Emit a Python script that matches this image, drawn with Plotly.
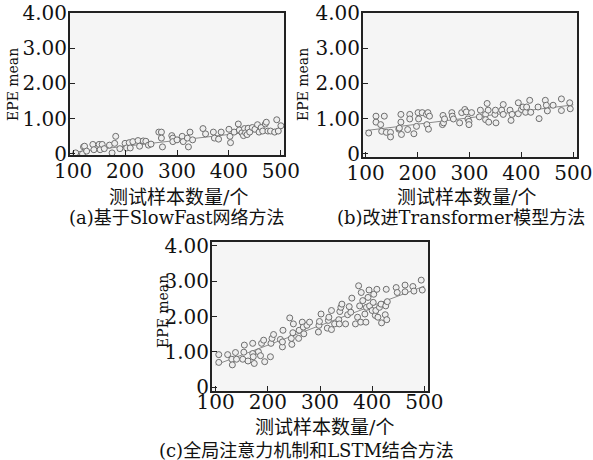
import plotly.graph_objects as go

# ---------------- data ----------------
a_x = [105, 118, 120, 122, 126, 138, 140, 150, 152, 156, 160, 170, 175, 182, 180, 190, 200, 203, 208, 210,
       215, 225, 228, 235, 240, 245, 250, 265, 270, 270, 272, 290, 292, 292, 300, 310, 312, 320, 322, 325,
       330, 350, 355, 370, 372, 380, 385, 400, 402, 403, 410, 418, 420, 425, 428, 430, 432, 435, 437, 440,
       445, 450, 455, 458, 462, 465, 470, 472, 475, 480, 488, 492, 495, 500]
a_y = [0.03, 0.0, 0.2, 0.22, 0.08, 0.27, 0.12, 0.27, 0.12, 0.27, 0.15, 0.25, 0.03, 0.5, 0.3, 0.15, 0.3, 0.17, 0.32, 0.17,
       0.35, 0.38, 0.22, 0.37, 0.36, 0.25, 0.28, 0.62, 0.62, 0.45, 0.2, 0.52, 0.45, 0.35, 0.4, 0.5, 0.35, 0.45, 0.2, 0.62,
       0.4, 0.72, 0.57, 0.62, 0.45, 0.42, 0.62, 0.7, 0.5, 0.32, 0.62, 0.85, 0.68, 0.6, 0.52, 0.72, 0.6, 0.55, 0.73, 0.62,
       0.75, 0.7, 0.83, 0.62, 0.75, 0.65, 0.85, 0.9, 0.65, 0.65, 0.62, 0.97, 0.65, 0.8]
a_fit_x = [100, 500]
a_fit_y = [0.05, 0.72]

b_x = [106, 120, 120, 129, 131, 136, 140, 148, 148, 164, 165, 168, 168, 169, 181, 185, 185, 193, 198, 201,
       202, 209, 217, 218, 220, 223, 221, 248, 249, 250, 252, 266, 267, 269, 281, 285, 291, 294, 297, 299,
       299, 304, 319, 321, 331, 331, 334, 336, 337, 349, 350, 351, 362, 365, 365, 378, 380, 382, 394, 394,
       400, 403, 408, 410, 416, 418, 432, 434, 446, 448, 450, 461, 477, 477, 493, 494]
b_y = [0.59, 1.07, 0.9, 0.83, 0.64, 1.07, 0.61, 0.61, 0.48, 0.70, 0.73, 1.12, 0.9, 0.55, 0.69, 1.12, 0.99, 0.57, 0.78, 1.17,
       0.99, 1.17, 1.12, 0.83, 1.17, 1.07, 0.70, 0.83, 1.09, 0.88, 0.99, 1.17, 1.07, 0.99, 0.88, 1.17, 1.26, 1.19, 0.99, 0.92,
       0.83, 1.17, 1.05, 1.24, 1.12, 0.97, 1.43, 1.24, 0.9, 1.12, 1.24, 0.88, 1.24, 1.40, 1.12, 1.24, 0.95, 1.12, 1.45, 1.14,
       1.26, 1.33, 1.18, 1.33, 1.52, 1.18, 1.33, 1.0, 1.52, 1.38, 1.22, 1.38, 1.56, 1.23, 1.45, 1.28]
b_fit_x = [100, 500]
b_fit_y = [0.66, 1.39]

c_x = [106, 106, 123, 131, 132, 138, 140, 152, 154, 155, 162, 171, 171, 172, 174, 182, 186, 188, 192, 194,
       205, 206, 208, 211, 224, 228, 228, 229, 242, 245, 246, 248, 249, 259, 260, 266, 268, 269, 275, 280,
       297, 298, 299, 302, 314, 316, 317, 322, 322, 328, 336, 337, 338, 340, 342, 349, 353, 356, 359, 361,
       368, 372, 374, 376, 378, 379, 382, 386, 388, 389, 392, 394, 395, 400, 402, 403, 406, 407, 409, 411,
       414, 417, 418, 425, 426, 427, 428, 429, 446, 448, 463, 463, 478, 480, 494, 496]
c_y = [0.92, 0.7, 0.92, 0.79, 0.63, 0.98, 0.79, 0.79, 0.99, 1.19, 0.74, 0.95, 1.24, 0.86, 0.67, 1.0, 0.89, 1.24, 1.33, 0.72,
       0.86, 1.24, 1.38, 1.49, 1.35, 1.14, 1.28, 1.61, 1.96, 1.38, 1.21, 1.54, 1.79, 1.38, 1.61, 1.84, 1.70, 1.51, 1.75, 1.84,
       1.56, 1.75, 1.86, 2.07, 1.67, 1.89, 1.98, 2.17, 1.63, 1.79, 1.91, 1.79, 2.14, 2.26, 2.35, 1.79, 2.05, 2.28, 2.12, 2.52,
       1.79, 1.98, 2.87, 2.30, 1.84, 2.68, 2.45, 2.07, 1.84, 2.26, 2.54, 2.75, 2.30, 2.17, 2.40, 2.63, 2.03, 2.17, 2.77, 1.98,
       2.26, 2.35, 1.82, 2.05, 2.30, 2.77, 1.91, 2.42, 2.82, 2.68, 2.89, 2.70, 2.85, 2.72, 3.03, 2.75]
c_fit_x = [100, 500]
c_fit_y = [0.63, 2.86]

x_ticks = [100, 200, 300, 400, 500]
y_ticks = [0, 1, 2, 3, 4]
y_tick_labels = ["0", "1.00", "2.00", "3.00", "4.00"]
x_title = "测试样本数量/个"
y_title = "EPE mean"
captions = ["(a)基于SlowFast网络方法", "(b)改进Transformer模型方法", "(c)全局注意力机制和LSTM结合方法"]

# ---------------- layout helpers ----------------
W, H = 593, 460
SERIF = "DejaVu Serif, Noto Sans CJK SC, serif"
CJK = "DejaVu Serif, Noto Sans CJK SC, sans-serif"

def dom_x(p0, p1):
    return [p0 / W, p1 / W]

def dom_y(top, bottom):
    return [1 - bottom / H, 1 - top / H]

panels = [
    dict(x=a_x, y=a_y, fx=a_fit_x, fy=a_fit_y, xd=dom_x(70, 284), yd=dom_y(13, 155),
         xr=[94, 506], yr=[-0.03, 4.0], xso=-3),
    dict(x=b_x, y=b_y, fx=b_fit_x, fy=b_fit_y, xd=dom_x(363, 577), yd=dom_y(13, 157),
         xr=[95, 507], yr=[-0.09, 4.0], xso=-3),
    dict(x=c_x, y=c_y, fx=c_fit_x, fy=c_fit_y, xd=dom_x(212, 428), yd=dom_y(242, 391),
         xr=[93, 507], yr=[-0.11, 4.11], xso=-8),
]

fig = go.Figure()
layout = {}
for i, p in enumerate(panels):
    sfx = "" if i == 0 else str(i + 1)
    xref = "x" + sfx
    yref = "y" + sfx
    fig.add_trace(go.Scatter(
        x=p["fx"], y=p["fy"], mode="lines", xaxis=xref, yaxis=yref,
        line=dict(color="#8a8a8a", width=1), showlegend=False, hoverinfo="skip"))
    fig.add_trace(go.Scatter(
        x=p["x"], y=p["y"], mode="markers", xaxis=xref, yaxis=yref,
        marker=dict(symbol="circle", size=6, color="#eeeeee",
                    line=dict(color="#6e6e6e", width=1)),
        showlegend=False))
    layout["xaxis" + sfx] = dict(
        domain=p["xd"], range=p["xr"], anchor=yref, automargin=False,
        tickvals=x_ticks, ticktext=[str(v) for v in x_ticks],
        ticks="inside", ticklen=5, tickwidth=1, tickcolor="#222",
        showline=True, linecolor="#222", linewidth=2, mirror=True,
        showgrid=False, zeroline=False, ticklabelstandoff=p["xso"],
        tickfont=dict(family=SERIF, size=20, color="#111"))
    layout["yaxis" + sfx] = dict(
        domain=p["yd"], range=p["yr"], anchor=xref, automargin=False,
        tickvals=y_ticks, ticktext=y_tick_labels,
        ticks="inside", ticklen=5, tickwidth=1, tickcolor="#222",
        showline=True, linecolor="#222", linewidth=2, mirror=True,
        showgrid=False, zeroline=False, ticklabelstandoff=-3,
        tickfont=dict(family=SERIF, size=20, color="#111"))

fig.update_layout(**layout)

annos = []
# y titles
for (cx, cy) in [(13, 85), (303, 85), (163, 312)]:
    annos.append(dict(text=y_title, x=cx / W, y=1 - cy / H, xref="paper", yref="paper",
                      showarrow=False, textangle=-90, xanchor="center", yanchor="middle",
                      font=dict(family=SERIF, size=14, color="#111")))
# x titles
for (cx, cy) in [(178, 197), (466, 197), (324, 427)]:
    annos.append(dict(text=x_title, x=cx / W, y=1 - cy / H, xref="paper", yref="paper",
                      showarrow=False, xanchor="center", yanchor="middle",
                      font=dict(family=CJK, size=19, color="#111")))
# captions
for cap, (cx, cy) in zip(captions, [(177, 218), (461, 218), (306, 450)]):
    annos.append(dict(text=cap, x=cx / W, y=1 - cy / H, xref="paper", yref="paper",
                      showarrow=False, xanchor="center", yanchor="middle",
                      font=dict(family=CJK, size=18, color="#111")))

fig.update_layout(
    width=W, height=H, margin=dict(l=0, r=0, t=0, b=0),
    paper_bgcolor="white", plot_bgcolor="#f5f5f5",
    annotations=annos, font=dict(family=SERIF, color="#111"))

fig.write_html("out.html", config={"displayModeBar": False},
               post_script="document.body.style.margin='0px';")
